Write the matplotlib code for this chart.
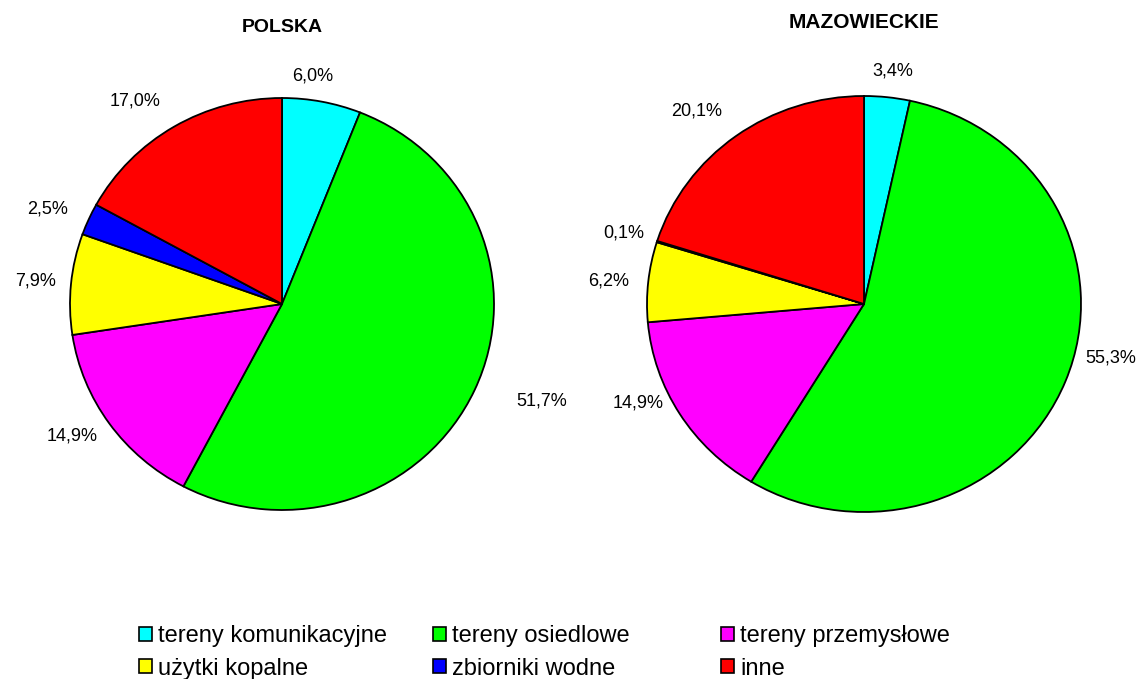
import matplotlib.pyplot as plt
import numpy as np
from matplotlib.patches import Patch

plt.rcParams['font.family'] = ['Liberation Sans', 'DejaVu Sans']

# land use categories and shares (%)
categories = ["tereny komunikacyjne", "tereny osiedlowe", "tereny przemysłowe",
              "użytki kopalne", "zbiorniki wodne", "inne"]
colors = ["#00FFFF", "#00FF00", "#FF00FF", "#FFFF00", "#0000FF", "#FF0000"]
polska = [6.0, 51.7, 14.9, 7.9, 2.5, 17.0]
mazowieckie = [3.4, 55.3, 14.9, 6.2, 0.1, 20.1]
titles = ["POLSKA", "MAZOWIECKIE"]

# hand nudges of the percentage labels (pixels, x right / y down)
nudge_pl = [(-13, -7), (24, 3), (4, 2), (4, -1), (-3, -3), (-4, -10)]
nudge_maz = [(4, -8), (2, -30), (1, -21), (0, 1), (6, -3), (-2, -10)]

W, H = 1146, 679
fig = plt.figure(figsize=(W / 100, H / 100), dpi=100)


def draw_pie(values, title, cx, cy, rx, ry, title_y, nudges, title_size):
    ax = fig.add_axes([(cx - rx) / W, (H - cy - ry) / H, 2 * rx / W, 2 * ry / H])
    ax.pie(values, colors=colors, startangle=90, counterclock=False,
           wedgeprops=dict(edgecolor="black", linewidth=1.3))
    ax.set_aspect('auto')
    ax.set_xlim(-1, 1)
    ax.set_ylim(-1, 1)
    # percentage labels just outside each slice
    cum = np.cumsum([0] + values[:-1])
    for start, v, (dx, dy) in zip(cum, values, nudges):
        ang = np.deg2rad(90 - (start + v / 2) * 3.6)
        x = 1.09 * np.cos(ang) + dx / rx
        y = 1.09 * np.sin(ang) - dy / ry
        ha = 'left' if np.cos(ang) >= 0 else 'right'
        if abs(np.cos(ang)) < 0.3:
            ha = 'center'
        ax.text(x, y, f"{v:.1f}%".replace('.', ','), ha=ha, va='center',
                fontsize=13, clip_on=False)
    fig.text(cx / W, 1 - title_y / H, title, ha='center', va='center',
             fontsize=title_size, fontweight='bold')


draw_pie(polska, titles[0], 282, 304, 212, 206, 28, nudge_pl, 14)
draw_pie(mazowieckie, titles[1], 864, 304, 217, 208, 22, nudge_maz, 15)

# legend: three columns, two rows
handles = [Patch(facecolor=c, edgecolor='black', linewidth=1.2) for c in colors]
col_x = [139, 433, 721]
for i, x in enumerate(col_x):
    idx = [i, i + 3]
    fig.legend([handles[j] for j in idx], [categories[j] for j in idx],
               loc='upper left', bbox_to_anchor=(x / W, 1 - 625 / H),
               frameon=False, fontsize=17, handlelength=0.55,
               handleheight=0.55, handletextpad=0.25, labelspacing=0.45,
               borderpad=0, borderaxespad=0)

fig.savefig("out.png", dpi=100)
